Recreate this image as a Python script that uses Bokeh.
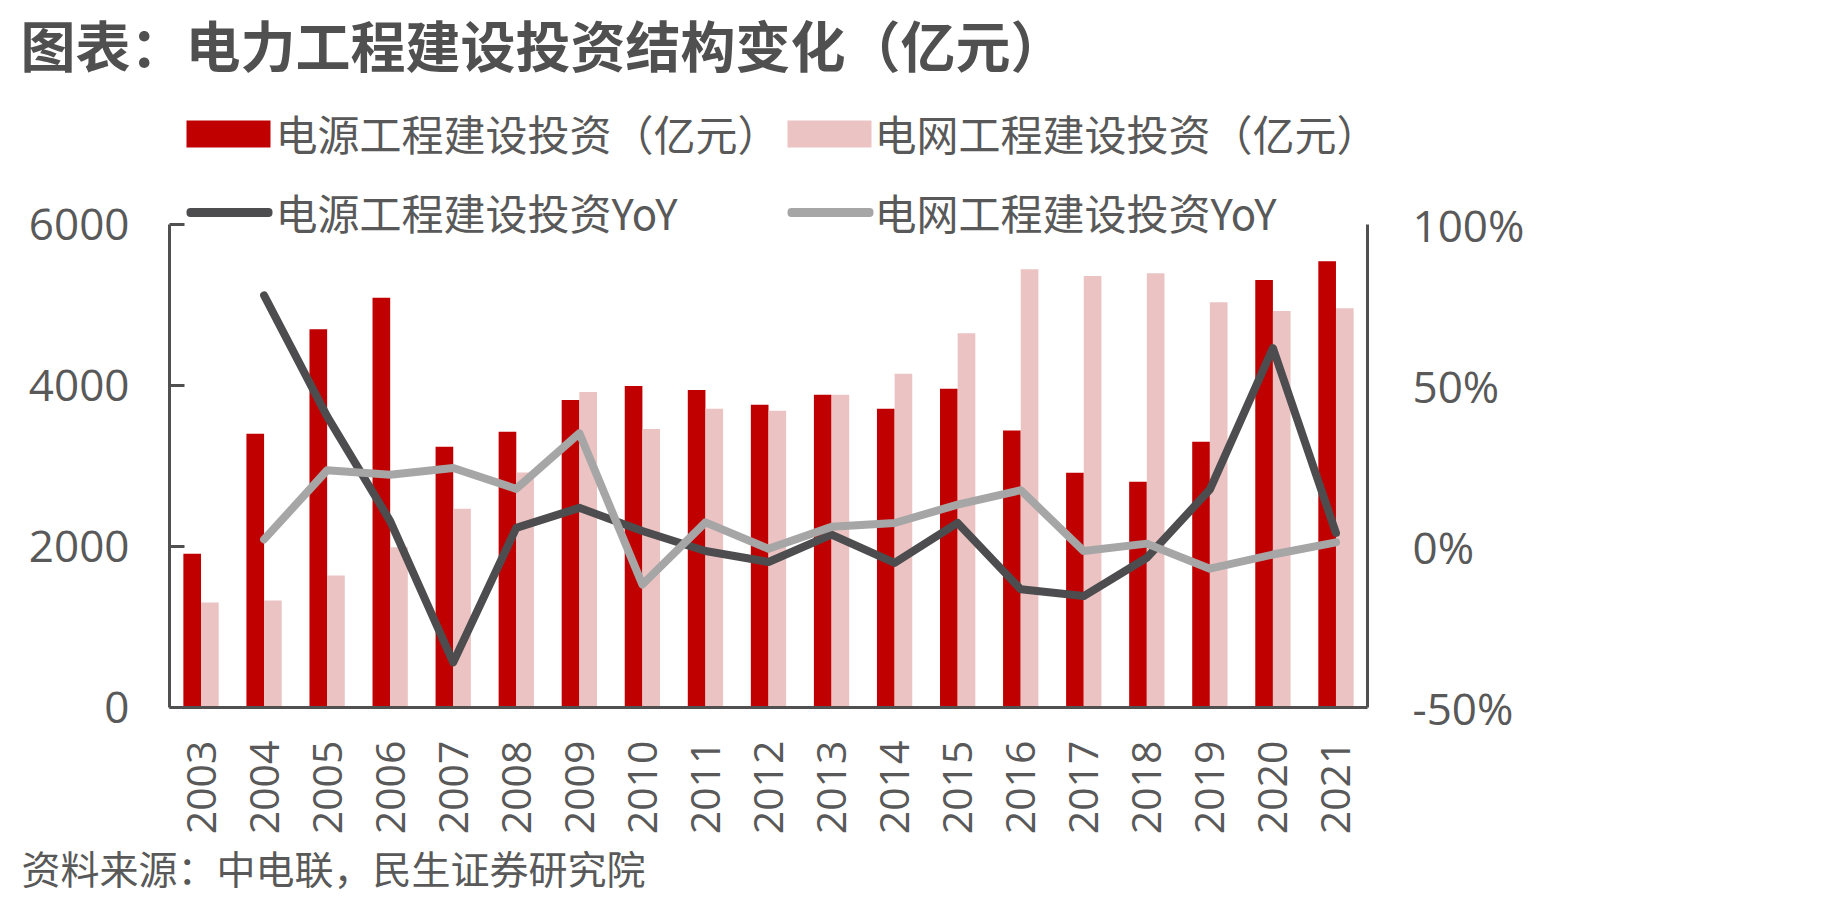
import math

from bokeh.embed import file_html
from bokeh.models import (BoxAnnotation, ColumnDataSource, FactorRange, FixedTicker,
                          Label, LinearAxis, PrintfTickFormatter, Range1d, Title)
from bokeh.plotting import figure
from bokeh.resources import INLINE
from bokeh.transform import dodge

# ---- data (亿元 / %) ----
years = [str(y) for y in range(2003, 2022)]
power_source_invest = [1910, 3400, 4700, 5090, 3240, 3425, 3820, 3995, 3945, 3760,
                       3885, 3710, 3960, 3440, 2915, 2805, 3300, 5310, 5545]
power_grid_invest = [1305, 1330, 1640, 1990, 2470, 2920, 3920, 3460, 3710, 3685,
                     3885, 4145, 4650, 5445, 5360, 5395, 5035, 4925, 4960]
yoy_years = years[1:]
power_source_yoy = [78.0, 40.4, 7.9, -36.0, 5.8, 12.0, 4.8, -1.4, -4.8, 3.7,
                    -5.1, 7.3, -13.3, -15.4, -3.5, 17.7, 61.6, 4.2]
power_grid_yoy = [2.2, 23.7, 22.3, 24.4, 17.9, 35.2, -11.8, 7.5, -0.7, 6.1,
                  7.3, 13.0, 17.5, -1.4, 0.9, -6.9, -2.5, 1.3]

left_ticks = [0, 2000, 4000, 6000]
right_ticks = [-50, 0, 50, 100]

title_text = "图表：电力工程建设投资结构变化（亿元）"
legend_texts = ["电源工程建设投资（亿元）", "电网工程建设投资（亿元）",
                "电源工程建设投资YoY", "电网工程建设投资YoY"]
source_text = "资料来源：中电联，民生证券研究院"

# ---- style ----
RED = "#C00000"
PINK = "#EBC3C3"
DARK = "#4D4D4F"
GREY = "#A6A6A6"
TEXT = "#595959"
AXIS = "#505050"
FONT = "Noto Sans CJK SC"
NUM_FONT = "Open Sans"

W, H = 1821, 899
FL, FR, FB = 169, 1367, 707     # frame left / right / bottom in page pixels
AX_TOP = 224                    # where the 6000 / 100% ticks sit
T = 83                          # frame top; the legend lives inside the frame

# value ranges stretched so that 0..6000 occupies AX_TOP..FB
stretch = (FB - T) / (FB - AX_TOP)
y_top = 6000 * stretch
pct_top = -50 + 150 * stretch

p = figure(width=W, height=H,
           x_range=FactorRange(*years, range_padding=0),
           y_range=Range1d(0, y_top),
           output_backend="svg", toolbar_location=None,
           min_border_left=FL, min_border_right=W - FR,
           min_border_top=T, min_border_bottom=H - FB)
p.outline_line_color = None
p.xgrid.visible = False
p.ygrid.visible = False
p.background_fill_color = "white"
p.border_fill_color = "white"

# chart title
p.title.text = title_text
p.title.align = "left"
p.title.offset = 20 - FL
p.title.vertical_align = "middle"
p.title.text_font = FONT
p.title.text_font_size = "55px"
p.title.text_font_style = "bold"
p.title.text_color = "#505050"
p.title.standoff = 0

p.extra_y_ranges = {"pct": Range1d(-50, pct_top)}
right_axis = LinearAxis(y_range_name="pct")
p.add_layout(right_axis, "right")

for ax in [p.xaxis[0], p.yaxis[0], right_axis]:
    ax.axis_line_color = AXIS
    ax.axis_line_width = 3
    ax.major_label_text_color = TEXT
    ax.major_label_text_font = NUM_FONT
    ax.major_label_text_font_size = "44px"
    ax.minor_tick_line_color = None

ly = p.yaxis[0]
ly.bounds = (0, 6000)
ly.ticker = FixedTicker(ticks=left_ticks)
ly.major_tick_in = 15
ly.major_tick_out = 0
ly.major_tick_line_width = 3
ly.major_tick_line_color = AXIS
ly.major_label_standoff = 40

right_axis.bounds = (-50, 100)
right_axis.ticker = FixedTicker(ticks=right_ticks)
right_axis.formatter = PrintfTickFormatter(format="%d%%")
right_axis.major_tick_line_color = None
right_axis.major_tick_in = 0
right_axis.major_tick_out = 0
right_axis.major_label_standoff = 45

bx = p.xaxis[0]
bx.major_tick_line_color = None
bx.major_tick_in = 0
bx.major_tick_out = 0
bx.major_label_orientation = math.pi / 2
bx.major_label_standoff = 33
bx.major_label_text_font_size = "41px"

# source note under the year labels
p.add_layout(Title(text=source_text, align="left", offset=21 - FL,
                   vertical_align="middle", standoff=0,
                   text_font=FONT, text_font_size="39px",
                   text_font_style="normal", text_color=TEXT), "below")

# ---- bars ----
bars = ColumnDataSource(dict(year=years, src=power_source_invest, grid=power_grid_invest))
p.vbar(x=dodge("year", -0.14, range=p.x_range), top="src", width=0.28,
       source=bars, fill_color=RED, line_color=None)
p.vbar(x=dodge("year", 0.14, range=p.x_range), top="grid", width=0.28,
       source=bars, fill_color=PINK, line_color=None)

# ---- YoY lines on the right axis ----
p.line(yoy_years, power_source_yoy, y_range_name="pct", line_color=DARK,
       line_width=8, line_cap="round", line_join="round")
p.line(yoy_years, power_grid_yoy, y_range_name="pct", line_color=GREY,
       line_width=8, line_cap="round", line_join="round")


def put_text(text, px, py, size):
    p.add_layout(Label(x=px - FL, y=FB - py, x_units="screen", y_units="screen",
                       text=text, text_font=FONT, text_font_size=size,
                       text_color=TEXT, text_align="left", text_baseline="middle"))


def put_box(x0, x1, y0, y1, color, radius=0):
    p.add_layout(BoxAnnotation(left=x0 - FL, right=x1 - FL, top=FB - y0, bottom=FB - y1,
                               left_units="screen", right_units="screen",
                               top_units="screen", bottom_units="screen",
                               fill_color=color, fill_alpha=1.0, line_color=None,
                               border_radius=radius))


# legend
put_box(186, 270, 120, 147, RED)
put_box(787, 871, 120, 147, PINK)
put_box(186, 272, 207.5, 216.5, DARK, radius=4)
put_box(787, 873, 207.5, 216.5, GREY, radius=4)
put_text(legend_texts[0], 275, 132, "42px")
put_text(legend_texts[1], 874, 132, "42px")
put_text(legend_texts[2], 275, 211, "42px")
put_text(legend_texts[3], 874, 211, "42px")

open("out.html", "w").write(file_html(p, INLINE))
